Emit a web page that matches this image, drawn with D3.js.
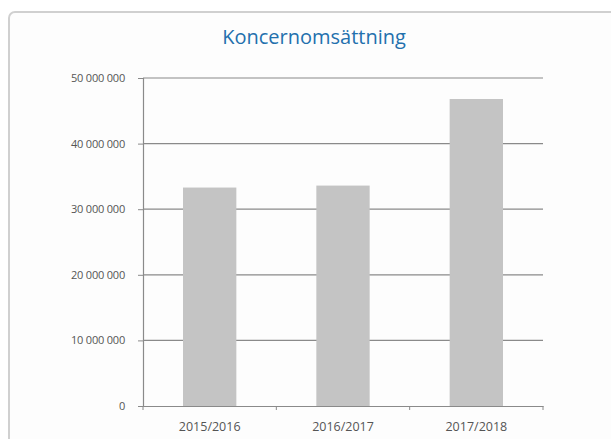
<!DOCTYPE html>
<html>
<head>
<meta charset="utf-8">
<script src="https://cdn.jsdelivr.net/npm/d3@7"></script>
<style>
  body { margin: 0; background: #fff; }
  svg { display: block; }
</style>
</head>
<body>
<div id="chart"></div>
<script>
"use strict"

const WIDTH = 611;
const HEIGHT = 439;

// data
const categories = ["2015/2016", "2016/2017", "2017/2018"];
const values = [33300000, 33600000, 46800000];
const tickValues = [0, 10000000, 20000000, 30000000, 40000000, 50000000];
const title = "Koncernomsättning";

const margin = {left: 143, right: 68, top: 78, bottom: 33};

var svg = d3.select('#chart')
	.append('svg')
	.attr('width', WIDTH)
	.attr('height', HEIGHT);

// card frame
svg.append('rect')
	.attr('x', 9)
	.attr('y', 12)
	.attr('width', WIDTH + 20)
	.attr('height', HEIGHT + 20)
	.attr('rx', 6)
	.style('fill', '#fdfdfd')
	.style('stroke', '#d0d0d0')
	.style('stroke-width', 2);

svg.append('text')
	.attr('x', 314)
	.attr('y', 44)
	.attr('text-anchor', 'middle')
	.style('font-family', 'Open Sans, sans-serif')
	.style('font-size', '20px')
	.style('fill', '#2370ad')
	.text(title);

var x = d3.scaleBand()
	.domain(categories)
	.range([margin.left, WIDTH - margin.right])
	.paddingInner(0.6)
	.paddingOuter(0.3);

var y = d3.scaleLinear()
	.domain([0, 50000000])
	.range([HEIGHT - margin.bottom, margin.top]);

function fmt(d) {
	return d3.format(",")(d).replace(/,/g, " ");
}

// gridlines
svg.append('g')
	.selectAll('line')
	.data(tickValues.slice(1))
	.enter()
		.append('line')
		.attr('x1', margin.left)
		.attr('x2', WIDTH - margin.right)
		.attr('y1', function(d) { return y(d); })
		.attr('y2', function(d) { return y(d); })
		.style('stroke', '#8a8a8a')
		.style('stroke-width', 1.2);

// bars
svg.append('g')
	.selectAll('rect')
	.data(values)
	.enter()
		.append('rect')
		.attr('x', function(d, i) { return x(categories[i]); })
		.attr('y', function(d) { return y(d); })
		.attr('width', x.bandwidth())
		.attr('height', function(d) { return y(0) - y(d); })
		.style('fill', '#c4c4c4');

// y axis
var yAxis = svg.append('g')
	.attr('transform', 'translate(' + margin.left + ',0)')
	.call(d3.axisLeft(y).tickValues(tickValues).tickSize(5).tickPadding(13).tickFormat(fmt));

// x axis
var xAxis = svg.append('g')
	.attr('transform', 'translate(0,' + y(0) + ')')
	.call(d3.axisBottom(x).tickSize(0).tickPadding(16));

// category boundary ticks like the original
var step = x.step();
var bounds = d3.range(categories.length + 1).map(function(i) { return margin.left + i * step; });
svg.append('g')
	.selectAll('line')
	.data(bounds)
	.enter()
		.append('line')
		.attr('x1', function(d) { return d; })
		.attr('x2', function(d) { return d; })
		.attr('y1', y(0))
		.attr('y2', y(0) + 4)
		.style('stroke', '#8a8a8a');

[yAxis, xAxis].forEach(function(g) {
	g.select('.domain').style('stroke', '#8a8a8a').style('stroke-width', 1.2);
	g.selectAll('.tick line').style('stroke', '#8a8a8a');
	g.selectAll('text')
		.style('font-family', 'Open Sans, sans-serif')
		.style('fill', '#555');
});
yAxis.selectAll('text').style('font-size', '11px').style('letter-spacing', '-0.2px');
xAxis.selectAll('text').style('font-size', '12.5px');
</script>
</body>
</html>
